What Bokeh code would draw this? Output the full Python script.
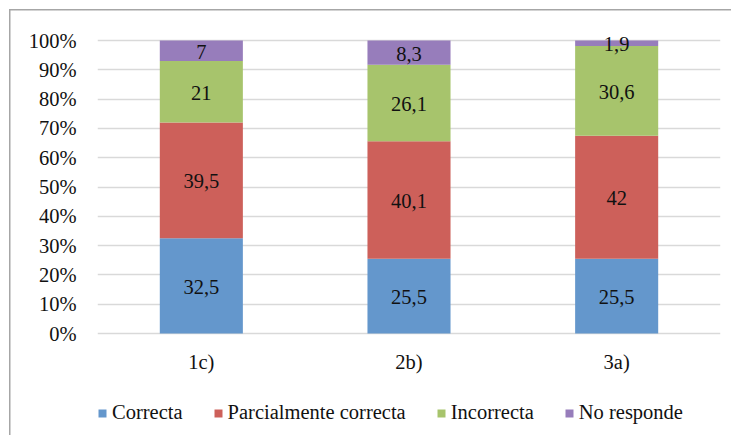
from bokeh.plotting import figure
from bokeh.models import ColumnDataSource, FixedTicker, PrintfTickFormatter, Legend, LegendItem, LabelSet, InlineStyleSheet
from bokeh.embed import file_html
from bokeh.resources import INLINE
from bokeh.core.properties import value

categories = ["1c)", "2b)", "3a)"]
series = ["Correcta", "Parcialmente correcta", "Incorrecta", "No responde"]
correcta = [32.5, 25.5, 25.5]
parcial = [39.5, 40.1, 42.0]
incorrecta = [21.0, 26.1, 30.6]
no_responde = [7.0, 8.3, 1.9]
colors = ["#6497CC", "#CD605A", "#A7C46C", "#977DBB"]
y_ticks = [0, 10, 20, 30, 40, 50, 60, 70, 80, 90, 100]

FONT = "Liberation Serif"
FS = "20.5px"

def fmt(v):
    if float(v).is_integer():
        return str(int(v))
    return ("%.1f" % v).replace(".", ",")

data = {"cat": categories, "Correcta": correcta, "Parcialmente correcta": parcial,
        "Incorrecta": incorrecta, "No responde": no_responde}
source = ColumnDataSource(data)

# frame extends below 0 so that category labels and legend live inside it
px_per_unit = 2.93
y_lo = -(435 - 333) / px_per_unit
y_hi = 100 + 10 / px_per_unit

p = figure(x_range=categories, y_range=(y_lo, y_hi), width=731, height=435,
           output_backend="svg", toolbar_location=None,
           min_border_left=97, min_border_right=11, min_border_top=30, min_border_bottom=0)

renderers = p.vbar_stack(series, x="cat", width=0.4, color=colors, source=source,
                         line_color=None)

lab_x, lab_y, lab_t = [], [], []
vals = [correcta, parcial, incorrecta, no_responde]
for i, c in enumerate(categories):
    base = 0.0
    for s in vals:
        lab_x.append(c)
        lab_y.append(base + s[i] / 2)
        lab_t.append(fmt(s[i]))
        base += s[i]
lsrc = ColumnDataSource(dict(x=lab_x, y=lab_y, t=lab_t))
p.add_layout(LabelSet(x="x", y="y", text="t", source=lsrc, text_align="center",
                      text_baseline="middle", text_font=value(FONT), y_offset=-1,
                      text_font_size=FS, text_color="#111111"))

# category labels below the 0% line
csrc = ColumnDataSource(dict(x=categories, y=[0] * len(categories), t=categories))
p.add_layout(LabelSet(x="x", y="y", text="t", source=csrc, text_align="center",
                      text_baseline="top", text_font=value(FONT), y_offset=-17,
                      text_font_size=FS, text_color="#111111"))
p.xaxis.visible = False

p.yaxis.ticker = FixedTicker(ticks=y_ticks)
p.yaxis.formatter = PrintfTickFormatter(format="%d%%")
ax = p.yaxis
ax.axis_line_color = None
ax.major_tick_line_color = None
ax.minor_tick_line_color = None
ax.major_tick_out = 0
ax.major_tick_in = 0
ax.major_label_text_font = FONT
ax.major_label_text_font_size = FS
ax.major_label_text_color = "#111111"
ax.major_label_standoff = 21

p.xgrid.grid_line_color = None
p.ygrid.grid_line_color = "#D9D9D9"
p.ygrid.grid_line_width = 1.5
p.outline_line_color = None
p.border_fill_color = None
p.background_fill_color = None

items = [LegendItem(label=s, renderers=[r]) for s, r in zip(series, renderers)]
legend = Legend(items=items, orientation="horizontal", location=(0, 11),
                glyph_width=10, glyph_height=10, label_standoff=5, spacing=30,
                padding=0, margin=0, border_line_color=None, background_fill_alpha=0,
                label_text_font=FONT, label_text_font_size=FS,
                label_text_color="#111111")
p.add_layout(legend, "center")

css = (":host { background:"
       " linear-gradient(#A6A6A6, #A6A6A6) 9px 9px / 1.5px 100% no-repeat,"
       " linear-gradient(#A6A6A6, #A6A6A6) 9px 9px / 100% 1.5px no-repeat,"
       " #FFFFFF; }")
p.stylesheets = [InlineStyleSheet(css=css)]

open("out.html", "w").write(file_html(p, INLINE))
